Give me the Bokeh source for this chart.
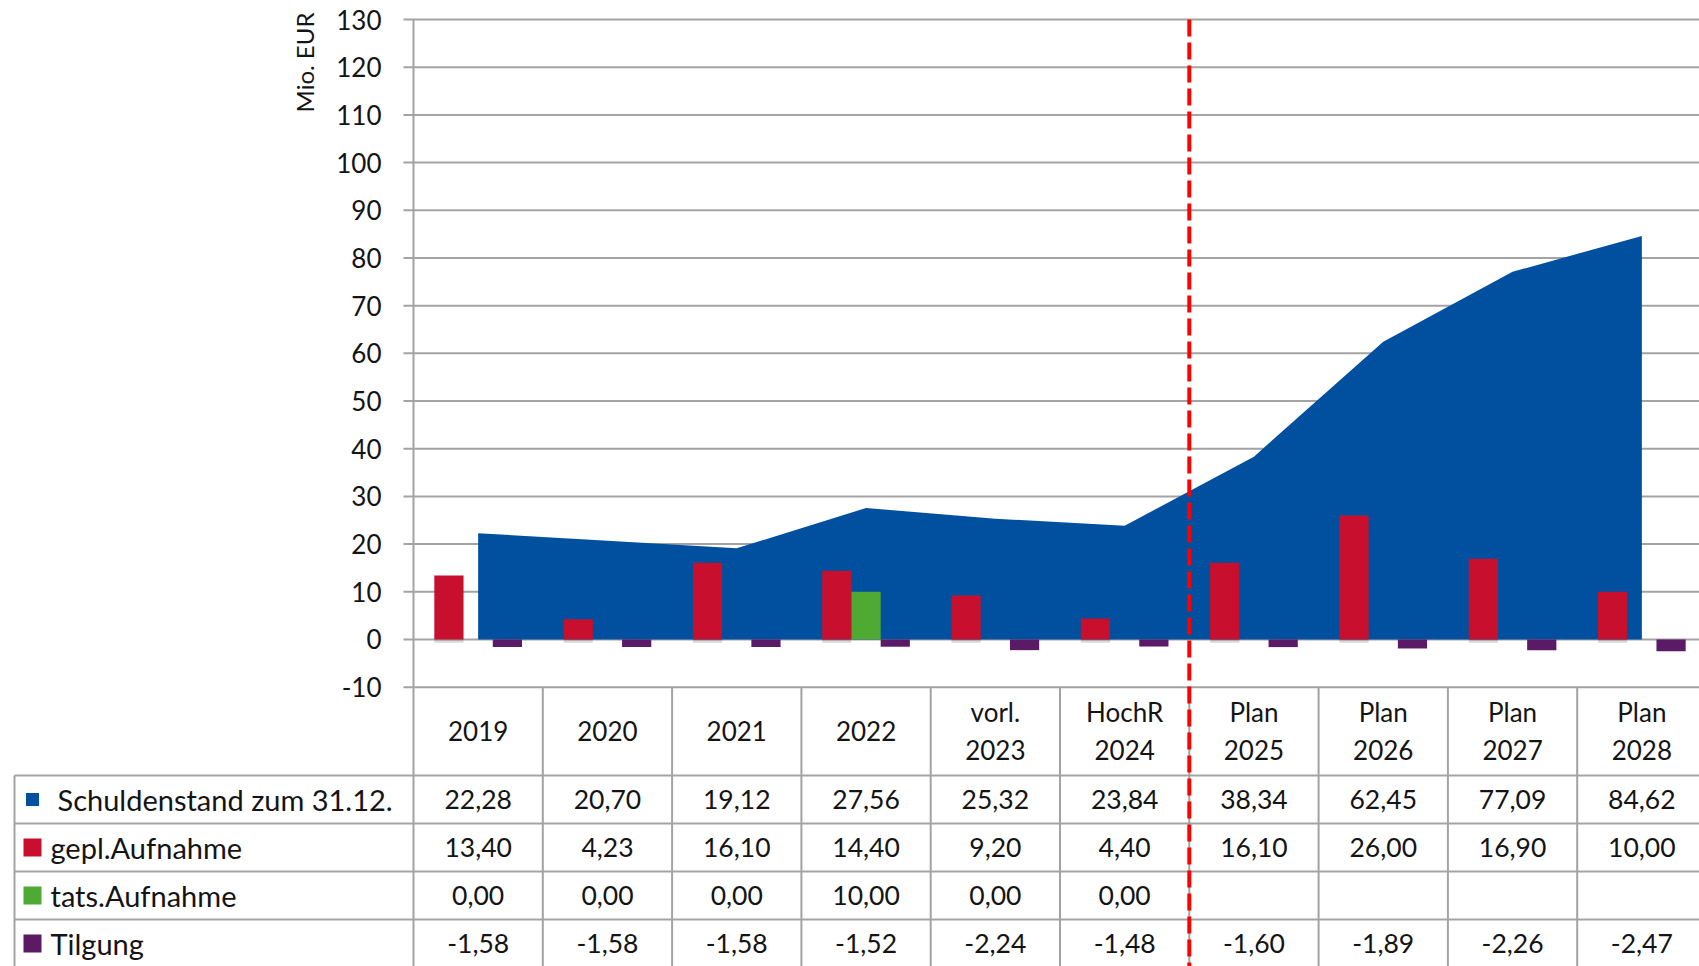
import math
from bokeh.plotting import figure
from bokeh.models import Range1d, ColumnDataSource
from bokeh.core.properties import value
from bokeh.embed import file_html
from bokeh.resources import INLINE

# ---------------- data ----------------
categories = ["2019", "2020", "2021", "2022", "vorl. 2023", "HochR 2024",
              "Plan 2025", "Plan 2026", "Plan 2027", "Plan 2028"]
schuldenstand = [22.28, 20.70, 19.12, 27.56, 25.32, 23.84, 38.34, 62.45, 77.09, 84.62]
gepl_aufnahme = [13.40, 4.23, 16.10, 14.40, 9.20, 4.40, 16.10, 26.00, 16.90, 10.00]
tats_aufnahme = [0.00, 0.00, 0.00, 10.00, 0.00, 0.00, None, None, None, None]
tilgung = [-1.58, -1.58, -1.58, -1.52, -2.24, -1.48, -1.60, -1.89, -2.26, -2.47]
series_names = ["Schuldenstand zum 31.12.", "gepl.Aufnahme", "tats.Aufnahme", "Tilgung"]
y_ticks = [-10, 0, 10, 20, 30, 40, 50, 60, 70, 80, 90, 100, 110, 120, 130]
y_label = "Mio. EUR"
split_index = 5.5  # boundary between Ist and Plan columns

# ---------------- style / layout ----------------
BLUE = "#00509F"
RED = "#C8102E"
GREEN = "#4FAA34"
PURPLE = "#5A1A66"
GRID = "#A3A3A3"
TXT = "#141414"
FONT = value("Lato")

W, H = 1699, 966
COL_W = 129.3            # px per category
AX_X = 413               # px of the value axis
Y_TOP_PX = 19            # px of the top tick
Y_MIN, Y_MAX = y_ticks[0], y_ticks[-1]
PX_PER_UNIT = 4.769

x_start = -0.5 - AX_X / COL_W
x_end = -0.5 + (W - AX_X) / COL_W
y_end = Y_MAX + Y_TOP_PX / PX_PER_UNIT
y_bottom_px = Y_TOP_PX + (Y_MAX - Y_MIN) * PX_PER_UNIT
y_start = Y_MIN - (H - y_bottom_px) / PX_PER_UNIT


def dx(px):
    """horizontal pixel distance -> data units"""
    return px / COL_W


def tab_y(px_below):
    """pixel offset below the lowest tick -> data units"""
    return Y_MIN - px_below / PX_PER_UNIT


n = len(categories)
xs = list(range(n))

p = figure(width=W, height=H, x_range=Range1d(x_start, x_end), y_range=Range1d(y_start, y_end),
           output_backend="svg", toolbar_location=None, x_axis_location=None, y_axis_location=None,
           min_border_left=0, min_border_right=0, min_border_top=0, min_border_bottom=0,
           outline_line_color=None)
p.grid.visible = False

# ---- grid lines, tick marks, axis labels ----
p.segment(x0=[-0.5 - dx(10)] * len(y_ticks), y0=y_ticks, x1=[x_end] * len(y_ticks), y1=y_ticks,
          line_color=GRID, line_width=2)
p.text(x=[-0.5 - dx(32)] * len(y_ticks), y=y_ticks, text=[str(t) for t in y_ticks],
       text_align="right", text_baseline="middle", text_font=FONT, text_font_size="26px",
       text_color=TXT)
p.text(x=[-0.5 - dx(109)], y=[Y_MAX - 43 / PX_PER_UNIT], text=[y_label], angle=math.pi / 2,
       text_align="center", text_baseline="middle", text_font=FONT, text_font_size="24px",
       text_color=TXT)

# ---- series ----
src = ColumnDataSource(dict(x=xs, s=schuldenstand, g=gepl_aufnahme,
                            t=[float("nan") if v is None else v for v in tats_aufnahme],
                            tl=tilgung,
                            xg=[x - 0.226 for x in xs], xt=xs, xp=[x + 0.226 for x in xs]))
p.varea(x="x", y1=0, y2="s", source=src, fill_color=BLUE)
# soft shadows under the bars
p.vbar(x="xg", top=0, bottom=-0.7, width=0.226, source=src, fill_color="#000000",
       fill_alpha=0.15, line_color=None)
p.vbar(x="xg", top="g", bottom=0, width=0.226, source=src, fill_color=RED, line_color=None)
p.vbar(x="xt", top="t", bottom=0, width=0.226, source=src, fill_color=GREEN, line_color=None)
p.vbar(x="xp", top=0, bottom="tl", width=0.226, source=src, fill_color=PURPLE, line_color=None)

# ---- data table ----
HEADER_H = 88.3
ROW_H = 48.0
row_tops = [HEADER_H + ROW_H * k for k in range(4)]
row_c = [tab_y(t + ROW_H / 2) for t in row_tops]
left_border = x_start + dx(14)

# vertical lines (first one doubles as the value axis)
vx = [-0.5 + k for k in range(n + 1)]
p.segment(x0=vx, y0=[Y_MAX] + [Y_MIN] * n, x1=vx, y1=[y_start] * len(vx),
          line_color=GRID, line_width=2)
p.segment(x0=[left_border], y0=[tab_y(HEADER_H)], x1=[left_border], y1=[y_start],
          line_color=GRID, line_width=2)
# horizontal lines
p.segment(x0=[left_border] * 4, y0=[tab_y(t) for t in row_tops], x1=[x_end] * 4,
          y1=[tab_y(t) for t in row_tops], line_color=GRID, line_width=2)

# header text
hx, hy, ht = [], [], []
for i, c in enumerate(categories):
    parts = c.split(" ")
    if len(parts) == 1:
        hx.append(i); hy.append(tab_y(HEADER_H / 2)); ht.append(c)
    else:
        hx += [i, i]; hy += [tab_y(HEADER_H / 2 - 19), tab_y(HEADER_H / 2 + 19)]; ht += parts
p.text(x=hx, y=hy, text=ht, text_align="center", text_baseline="middle", text_font=FONT,
       text_font_size="26px", text_color=TXT)


def fmt(v):
    return "" if v is None else f"{v:.2f}".replace(".", ",")


tx, ty, tt = [], [], []
for r, ser in enumerate([schuldenstand, gepl_aufnahme, tats_aufnahme, tilgung]):
    for i, v in enumerate(ser):
        tx.append(i); ty.append(row_c[r]); tt.append(fmt(v))
p.text(x=tx, y=ty, text=tt, text_align="center", text_baseline="middle", text_font=FONT,
       text_font_size="26.5px", text_color=TXT)

# legend keys and names
key_sizes = [13, 18, 18, 18]
p.rect(x=[x_start + dx(32)] * 4, y=row_c, width=key_sizes, height=key_sizes,
       width_units="screen", height_units="screen",
       fill_color=[BLUE, RED, GREEN, PURPLE], line_color=None)
name_x = [x_start + dx(57)] + [x_start + dx(50)] * 3
p.text(x=name_x, y=row_c, text=series_names, text_align="left", text_baseline="middle",
       text_font=FONT, text_font_size="29px", text_color=TXT)

# ---- Ist / Plan divider ----
p.segment(x0=[split_index], y0=[Y_MAX], x1=[split_index], y1=[y_start],
          line_color="#FF0000", line_width=4, line_dash="17 6")

open("out.html", "w").write(file_html(p, INLINE))
